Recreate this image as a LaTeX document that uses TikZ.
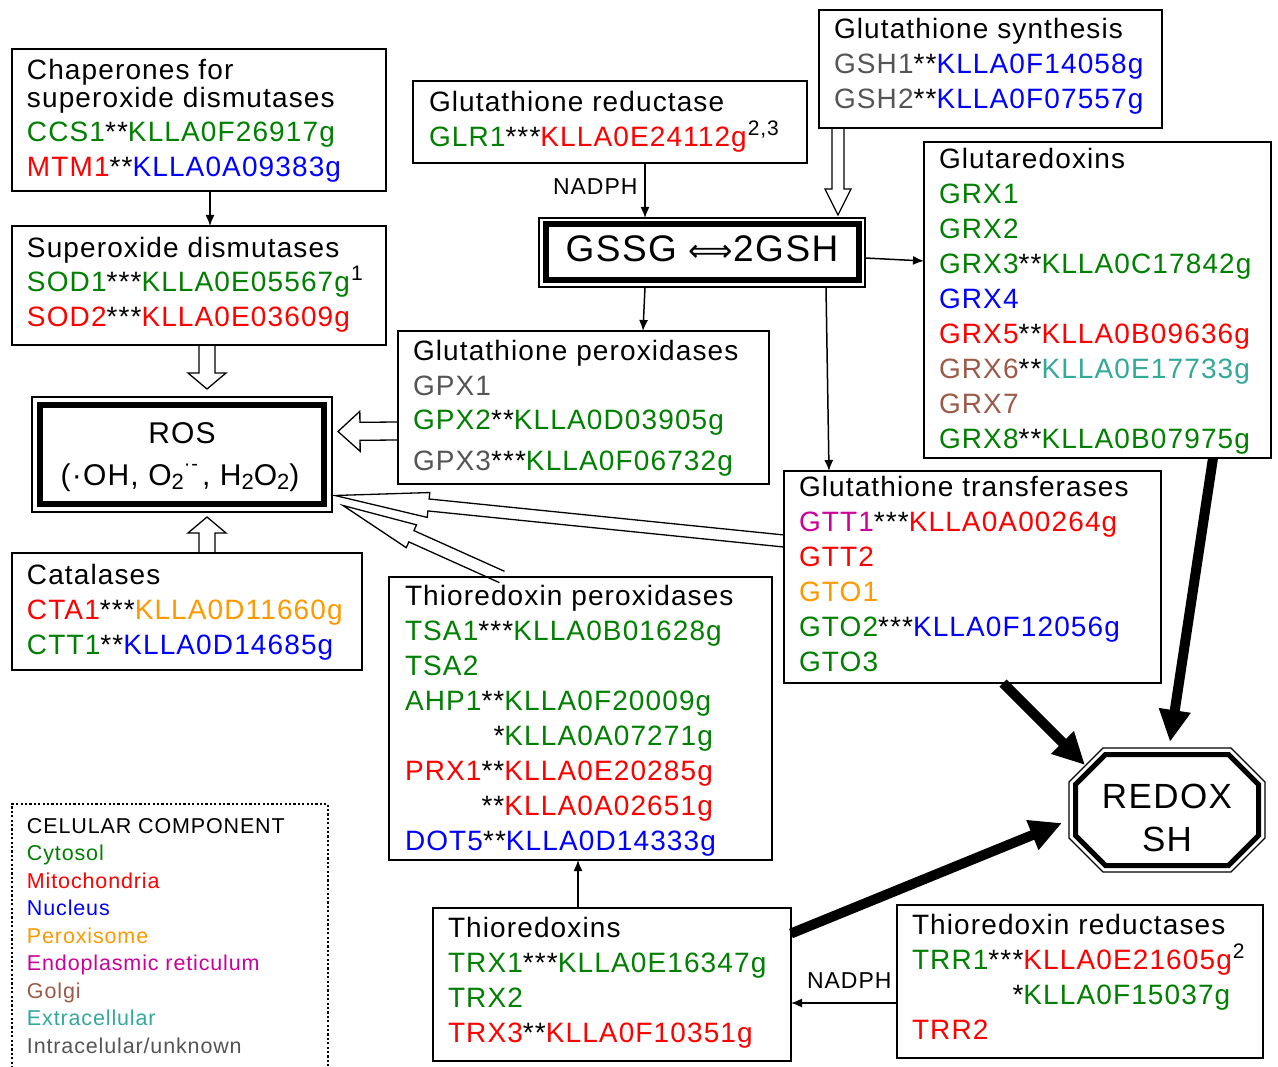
\documentclass[tikz,border=0pt]{standalone}
\usepackage{fontspec}
\setmainfont{Liberation Sans}[LetterSpace=4]
\newfontfamily\djv{DejaVu Sans}
\usepackage{graphicx}
\usetikzlibrary{calc,arrows.meta}
\definecolor{cgreen}{HTML}{008000}
\definecolor{cred}{HTML}{FF0000}
\definecolor{cblue}{HTML}{0000FF}
\definecolor{corange}{HTML}{FF9900}
\definecolor{cmag}{HTML}{CC0099}
\definecolor{cbrown}{HTML}{9C5A48}
\definecolor{cteal}{HTML}{33A999}
\definecolor{cgray}{HTML}{555555}
\newcommand\cG[1]{\textcolor{cgreen}{#1}}
\newcommand\cR[1]{\textcolor{cred}{#1}}
\newcommand\cB[1]{\textcolor{cblue}{#1}}
\newcommand\cO[1]{\textcolor{corange}{#1}}
\newcommand\cM[1]{\textcolor{cmag}{#1}}
\newcommand\cN[1]{\textcolor{cbrown}{#1}}
\newcommand\cT[1]{\textcolor{cteal}{#1}}
\newcommand\cY[1]{\textcolor{cgray}{#1}}
\newcommand\supx[1]{\kern1pt\raisebox{11pt}{\fontsize{21}{21}\selectfont #1}}
\newcommand\subr[1]{\raisebox{-4pt}{\fontsize{22}{22}\selectfont #1}}
\newcommand\fl{\rule{0pt}{30pt}}
\newcommand\blockarrow[5]{%
  \coordinate (baS) at (#1);
  \coordinate (baE) at (#2);
  \coordinate (baH) at ($(baE)!#5!(baS)$);
  \draw[line width=1.3pt, line join=miter]
    ($(baS)!#3!90:(baE)$) -- ($(baH)!#3!90:(baE)$) -- ($(baH)!#4!90:(baE)$) -- (baE)
    -- ($(baH)!#4!-90:(baE)$) -- ($(baH)!#3!-90:(baE)$) -- ($(baS)!#3!-90:(baE)$);
}
\newcommand\octa[6]{\draw[#6] (#1+#5,#2) -- (#3-#5,#2) -- (#3,#2+#5) -- (#3,#4-#5) -- (#3-#5,#4) -- (#1+#5,#4) -- (#1,#4-#5) -- (#1,#2+#5) -- cycle;}
\begin{document}
\begin{tikzpicture}[x=1pt,y=-1pt,
  box/.style={draw, line width=1.3pt, anchor=north west, inner sep=0pt, outer sep=0pt},
  lbl/.style={anchor=north west, inner sep=0pt, outer sep=0pt, align=left, font=\fontsize{28}{35}\selectfont},
  thinarr/.style={line width=1.5pt, -{Latex[length=11pt,width=9pt]}},
  thickarr/.style={line width=10pt, -{Triangle[length=32pt,width=30pt]}},
  nad/.style={anchor=base west, inner sep=0pt, font=\fontsize{23}{23}\selectfont},
  big/.style={anchor=base, inner sep=0pt},
]
\useasboundingbox (0,0) rectangle (1278,1067);
\fill[white] (0,0) rectangle (1278,1067);

% boxes
\node[box, minimum width=374pt, minimum height=142pt] (chap) at (12,49) {};
\node[box, minimum width=374pt, minimum height=119pt] (sod) at (12,226) {};
\node[box, minimum width=350pt, minimum height=117pt] (cat) at (12,553) {};
\node[box, minimum width=394pt, minimum height=82pt] (glr) at (413,81) {};
\node[box, minimum width=343pt, minimum height=118pt] (gsyn) at (819,10) {};
\node[box, minimum width=347pt, minimum height=316pt] (grx) at (924,142) {};
\node[box, minimum width=371pt, minimum height=153pt] (gpx) at (398,331) {};
\node[box, minimum width=377pt, minimum height=212pt] (gst) at (784,471) {};
\node[box, minimum width=383pt, minimum height=283pt] (tpx) at (389,577) {};
\node[box, minimum width=358pt, minimum height=153pt] (trx) at (433,908) {};
\node[box, minimum width=366pt, minimum height=153pt] (trr) at (897,905) {};
\node[box, minimum width=300pt, minimum height=115pt] (rosout) at (32,397) {};
\node[box, minimum width=326pt, minimum height=69pt] (gssgout) at (539,218) {};
\node[anchor=north west, inner sep=0pt, outer sep=0pt, minimum width=196pt, minimum height=124pt] (redox) at (1069,748) {};
\node[anchor=north west, inner sep=0pt, outer sep=0pt, minimum width=316pt, minimum height=272pt, draw, line width=2.2pt, dash pattern=on 2.2pt off 2.2pt] (legend) at (12,804) {};

% double borders
\draw[line width=6pt] ($(rosout.north west)+(8,8)$) rectangle ($(rosout.south east)+(-8,-8)$);
\draw[line width=6pt] ($(gssgout.north west)+(6.5,6.5)$) rectangle ($(gssgout.south east)+(-6.5,-6.5)$);
\octa{1069}{748}{1265}{872}{34}{line width=1.3pt}
\octa{1075.5}{754.5}{1258.5}{865.5}{30}{line width=5pt}

% texts
\node[lbl] (chapt) at (27,50) {\fl Chaperones for\\[-7pt]
superoxide dismutases\\[-1pt]
\cG{CCS1}**\cG{KLLA0F26917g}\\
\cR{MTM1}**\cB{KLLA0A09383g}};

\node[lbl] (sodt) at (27,227) {\fl Superoxide dismutases\\
\cG{SOD1}***\cG{KLLA0E05567g}\supx{1}\\
\cR{SOD2}***\cR{KLLA0E03609g}};

\node[lbl] (catt) at (27,554) {\fl Catalases\\
\cR{CTA1}***\cO{KLLA0D11660g}\\
\cG{CTT1}**\cB{KLLA0D14685g}};

\node[lbl] (glrt) at (429,82) {\fl Glutathione reductase\\
\cG{GLR1}***\cR{KLLA0E24112g}\supx{2,3}};

\node[lbl] (gsynt) at (834,9) {\fl Glutathione synthesis\\
\cY{GSH1}**\cB{KLLA0F14058g}\\
\cY{GSH2}**\cB{KLLA0F07557g}};

\node[lbl] (grxt) at (939,138) {\fl Glutaredoxins\\
\cG{GRX1}\\
\cG{GRX2}\\
\cG{GRX3}**\cG{KLLA0C17842g}\\
\cB{GRX4}\\
\cR{GRX5}**\cR{KLLA0B09636g}\\
\cN{GRX6}**\cT{KLLA0E17733g}\\
\cN{GRX7}\\
\cG{GRX8}**\cG{KLLA0B07975g}};

\node[lbl] (gpxt) at (413,330) {\fl Glutathione peroxidases\\
\cY{GPX1}\\
\cG{GPX2}**\cG{KLLA0D03905g}\\[5pt]
\cY{GPX3}***\cG{KLLA0F06732g}};

\node[lbl] (gstt) at (799,466) {\fl Glutathione transferases\\
\cM{GTT1}***\cR{KLLA0A00264g}\\
\cR{GTT2}\\
\cO{GTO1}\\
\cG{GTO2}***\cB{KLLA0F12056g}\\
\cG{GTO3}};

\node[lbl] (tpxt) at (405,575) {\fl Thioredoxin peroxidases\\
\cG{TSA1}***\cG{KLLA0B01628g}\\
\cG{TSA2}\\
\cG{AHP1}**\cG{KLLA0F20009g}\\
\hphantom{AHP1*}*\cG{KLLA0A07271g}\\
\cR{PRX1}**\cR{KLLA0E20285g}\\
\hphantom{PRX1}**\cR{KLLA0A02651g}\\
\cB{DOT5}**\cB{KLLA0D14333g}};

\node[lbl] (trxt) at (448,907) {\fl Thioredoxins\\
\cG{TRX1}***\cG{KLLA0E16347g}\\
\cG{TRX2}\\
\cR{TRX3}**\cR{KLLA0F10351g}};

\node[lbl] (trrt) at (912,904) {\fl Thioredoxin reductases\\
\cG{TRR1}***\cR{KLLA0E21605g}\supx{2}\\
\hphantom{TRR1**}*\cG{KLLA0F15037g}\\
\cR{TRR2}};

\node[anchor=north west, inner sep=0pt, outer sep=0pt, align=left, font=\fontsize{21.5}{27.5}\selectfont] (legt) at (27,809) {\rule{0pt}{24pt}CELULAR COMPONENT\\
\cG{Cytosol}\\
\cR{Mitochondria}\\
\cB{Nucleus}\\
\cO{Peroxisome}\\
\cM{Endoplasmic reticulum}\\
\cN{Golgi}\\
\cT{Extracellular}\\
\cY{Intracelular/unknown}};

\node[big, font=\fontsize{30}{30}\selectfont] (rost1) at (182,443) {ROS};
\node[big, font=\fontsize{30}{30}\selectfont] (rost2) at (180,485) {(·OH, O\subr{2}\raisebox{14pt}{\fontsize{20}{20}\selectfont ·-}\kern4pt, H\subr{2}O\subr{2})};

\node[big, font=\fontsize{37}{37}\selectfont] (gssgt) at (702,262) {GSSG {\djv\fontsize{31}{31}\selectfont ⟺}2GSH};

\node[big, font=\fontsize{35}{35}\selectfont] (redt1) at (1167,808) {REDOX};
\node[big, font=\fontsize{35}{35}\selectfont] (redt2) at (1167,851) {SH};

\node[nad] (nad1) at (553,195) {NADPH};
\node[nad] (nad2) at (807,988) {NADPH};

% thin arrows
\draw[thinarr] ([shift={(11,0)}]chap.south) -- ([shift={(11,0)}]sod.north);
\draw[thinarr] ([shift={(35,0)}]glr.south) -- ([shift={(-57,0)}]gssgout.north);
\draw[thinarr] ([shift={(-57,0)}]gssgout.south) -- ([shift={(59.5,0)}]gpx.north);
\draw[thinarr] ([shift={(124,0)}]gssgout.south) -- ([shift={(-143.5,0)}]gst.north);
\draw[thinarr] ([shift={(0,5.5)}]gssgout.east) -- ([shift={(0,-39)}]grx.west);
\draw[thinarr] ([shift={(0,21.5)}]trr.west) -- ([shift={(0,18.5)}]trx.east);
\draw[thinarr] ([shift={(-34,0)}]trx.north) -- ([shift={(-2.5,0)}]tpx.south);

% thick arrows
\draw[thickarr] ([shift={(115.5,0)}]grx.south) -- ([shift={(3,-6)}]redox.north);
\draw[thickarr] ([shift={(30.5,0)}]gst.south) -- ([shift={(16,17)}]redox.north west);
\draw[thickarr] ([shift={(0,-51)}]trx.east) -- ([shift={(-7,13)}]redox.west);

% block arrows
\blockarrow{[shift={(8,0)}]sod.south}{[shift={(25,-8)}]rosout.north}{8pt}{19pt}{16pt}
\blockarrow{[shift={(20,0)}]cat.north}{[shift={(25,5)}]rosout.south}{8pt}{19pt}{16pt}
\blockarrow{[shift={(0,23.5)}]gpx.west}{[shift={(6,-23)}]rosout.east}{9pt}{20pt}{22pt}
\blockarrow{[shift={(0,-36)}]gst.west}{[shift={(3,41)}]rosout.east}{6pt}{12.5pt}{94pt}
\blockarrow{[shift={(-78.5,0)}]tpx.north}{[shift={(11,51)}]rosout.east}{6.2pt}{12.5pt}{75pt}
\blockarrow{[shift={(-152.5,0)}]gsyn.south}{[shift={(136,-3)}]gssgout.north}{6pt}{13pt}{26pt}
\end{tikzpicture}
\end{document}
